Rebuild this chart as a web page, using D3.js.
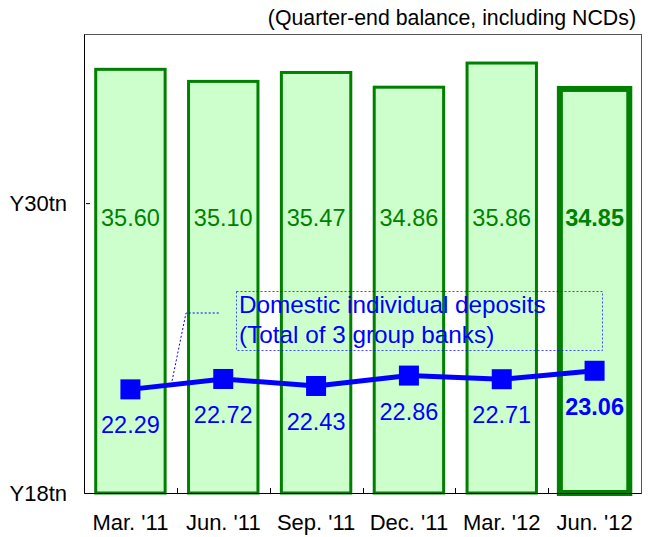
<!DOCTYPE html>
<html>
<head>
<meta charset="utf-8">
<script src="https://cdn.jsdelivr.net/npm/d3@7"></script>
<style>
  body { margin: 0; background: #fff; }
  svg { display: block; }
  svg text { font-family: "Liberation Sans", Arial, sans-serif; }
</style>
</head>
<body>
<div id="chart"></div>
<script>
// data
const quarters = ["Mar. '11", "Jun. '11", "Sep. '11", "Dec. '11", "Mar. '12", "Jun. '12"];
const totalDeposits = [35.60, 35.10, 35.47, 34.86, 35.86, 34.85];
const individualDeposits = [22.29, 22.72, 22.43, 22.86, 22.71, 23.06];
const yTicks = [18, 30];
const legendLines = ["Domestic individual deposits", "(Total of 3 group banks)"];
const note = "(Quarter-end balance, including NCDs)";

const W = 653, H = 537;
const margin = { top: 34, right: 12, bottom: 44, left: 84 };
const width = W - margin.left - margin.right;
const height = H - margin.top - margin.bottom;

const svg = d3.select("#chart")
  .append("svg")
  .attr("width", W)
  .attr("height", H);

svg.append("text")
  .attr("x", 636)
  .attr("y", 25)
  .attr("text-anchor", "end")
  .style("font-size", "21.3px")
  .attr("fill", "#000")
  .text(note);

const g = svg.append("g")
  .attr("transform", `translate(${margin.left}, ${margin.top})`);

// scales
const x = d3.scaleBand()
  .domain(quarters)
  .range([0, width])
  .paddingInner(0.22)
  .paddingOuter(0.11);

const y = d3.scaleLinear().domain([18, 37]).range([height, 0]);

const last = quarters.length - 1;

// frame
g.append("rect")
  .attr("x", 0.5).attr("y", 0.5)
  .attr("width", width).attr("height", height)
  .attr("fill", "none")
  .attr("stroke", "#555");

// bars
g.selectAll(".bar")
  .data(totalDeposits)
  .enter()
  .append("rect")
  .attr("class", "bar")
  .each(function (d, i) {
    const sw = i === last ? 6 : 3;
    const outer = x.bandwidth() + (i === last ? 3 : 0);
    const cx = x(quarters[i]) + x.bandwidth() / 2;
    d3.select(this)
      .attr("x", cx - outer / 2 + sw / 2)
      .attr("y", y(d) + sw / 2)
      .attr("width", outer - sw)
      .attr("height", y(18) - y(d) - sw / 2)
      .attr("fill", "#ccffcc")
      .attr("stroke", "#008000")
      .attr("stroke-width", sw);
  });

// bar labels
g.selectAll(".bar-label")
  .data(totalDeposits)
  .enter()
  .append("text")
  .attr("class", "bar-label")
  .attr("x", (d, i) => x(quarters[i]) + x.bandwidth() / 2)
  .attr("y", 192)
  .attr("text-anchor", "middle")
  .attr("fill", "#008000")
  .style("font-size", "23.5px")
  .style("font-weight", (d, i) => (i === last ? "bold" : "normal"))
  .text((d) => d.toFixed(2));

// axes
const yAxis = d3.axisLeft(y)
  .tickValues(yTicks)
  .tickFormat((d) => `Y${d}tn`)
  .tickSizeInner(-6)
  .tickSizeOuter(0)
  .tickPadding(17);

const yg = g.append("g").attr("id", "y-axis").call(yAxis);
yg.select(".domain").attr("stroke", "#000");
yg.selectAll("text").style("font-size", "22px").attr("fill", "#000");
yg.selectAll(".tick line").attr("x1", 2);

const xAxis = d3.axisBottom(x).tickSize(0).tickPadding(21);
const xg = g.append("g")
  .attr("id", "x-axis")
  .attr("transform", `translate(0, ${height})`)
  .call(xAxis);
xg.select(".domain").attr("stroke", "#000");
xg.selectAll("text").style("font-size", "22px").attr("fill", "#000");

// boundary ticks between categories
const gap = x.step() - x.bandwidth();
xg.selectAll(".sep")
  .data(quarters.slice(1))
  .enter()
  .append("line")
  .attr("class", "sep")
  .attr("x1", (d) => Math.round(x(d) - gap / 2) + 0.5)
  .attr("x2", (d) => Math.round(x(d) - gap / 2) + 0.5)
  .attr("y1", 0)
  .attr("y2", -5)
  .attr("stroke", "#000");

// legend annotation
const cx0 = x(quarters[0]) + x.bandwidth() / 2;
const cx1 = x(quarters[1]) + x.bandwidth() / 2;
const sx = cx0 + 0.44 * (cx1 - cx0);
const sy = y(individualDeposits[0]) + 0.44 * (y(individualDeposits[1]) - y(individualDeposits[0]));

g.append("polyline")
  .attr("points", `${sx},${sy} ${186 - margin.left},${313 - margin.top} ${220 - margin.left},${313 - margin.top}`)
  .attr("fill", "none")
  .attr("stroke", "#0000ff")
  .attr("stroke-width", 1)
  .attr("stroke-dasharray", "2,2");

g.append("rect")
  .attr("x", 236.5 - margin.left)
  .attr("y", 291.5 - margin.top)
  .attr("width", 366)
  .attr("height", 59)
  .attr("fill", "none")
  .attr("stroke", "#0000ff")
  .attr("stroke-opacity", 0.7)
  .attr("stroke-dasharray", "2,2");

g.selectAll(".legend-text")
  .data(legendLines)
  .enter()
  .append("text")
  .attr("class", "legend-text")
  .attr("x", 239 - margin.left)
  .attr("y", (d, i) => 313 - margin.top + i * 30)
  .attr("fill", "#0000ff")
  .style("font-size", "24.3px")
  .text((d) => d);

// line series
const line = d3.line()
  .x((d, i) => x(quarters[i]) + x.bandwidth() / 2)
  .y((d) => y(d));

g.append("path")
  .datum(individualDeposits)
  .attr("d", line)
  .attr("fill", "none")
  .attr("stroke", "#0000ff")
  .attr("stroke-width", 5);

g.selectAll(".marker")
  .data(individualDeposits)
  .enter()
  .append("rect")
  .attr("class", "marker")
  .attr("x", (d, i) => x(quarters[i]) + x.bandwidth() / 2 - 10)
  .attr("y", (d) => y(d) - 10)
  .attr("width", 20)
  .attr("height", 20)
  .attr("fill", "#0000ff");

g.selectAll(".line-label")
  .data(individualDeposits)
  .enter()
  .append("text")
  .attr("class", "line-label")
  .attr("x", (d, i) => x(quarters[i]) + x.bandwidth() / 2)
  .attr("y", (d) => y(d) + 44)
  .attr("text-anchor", "middle")
  .attr("fill", "#0000ff")
  .style("font-size", "23.5px")
  .style("font-weight", (d, i) => (i === last ? "bold" : "normal"))
  .text((d) => d.toFixed(2));
</script>
</body>
</html>
